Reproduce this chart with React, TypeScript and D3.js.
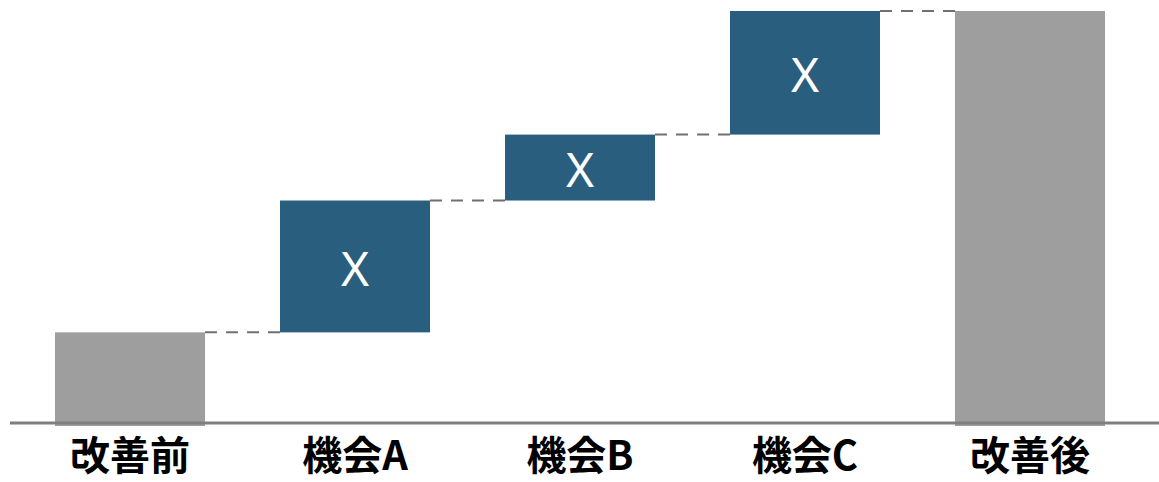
import React from "react";
import * as d3 from "d3";

const categories = ["改善前", "機会A", "機会B", "機会C", "改善後"];
const deltas = [22, 32, 16, 30];
const kinds = ["total", "delta", "delta", "delta", "total"];
const barLabels = ["", "X", "X", "X", ""];

const W = 1159;
const H = 482;

export default function App() {
  const x = d3
    .scaleBand<string>()
    .domain(categories)
    .range([17.5, 1142.5])
    .paddingInner(1 / 3)
    .paddingOuter(1 / 6);
  const total = d3.sum(deltas);
  const y = d3.scaleLinear().domain([0, total]).range([423, 11]);

  let cum = 0;
  const bars = categories.map((c, i) => {
    if (kinds[i] === "total") {
      const v = i === 0 ? deltas[0] : cum;
      if (i === 0) cum = deltas[0];
      return { c, y0: 0, y1: v, kind: kinds[i], label: barLabels[i] };
    }
    const start = cum;
    cum += deltas[i];
    return { c, y0: start, y1: cum, kind: kinds[i], label: barLabels[i] };
  });

  const connectors = bars.slice(0, -1).map((b, i) => ({
    x1: (x(b.c) as number) + x.bandwidth(),
    x2: x(bars[i + 1].c) as number,
    level: b.y1,
  }));

  const blue = "#2a5e7e";
  const gray = "#9e9e9e";

  return (
    <svg
      width={W}
      height={H}
      style={{ position: "absolute", left: 0, top: 0, background: "#fff" }}
    >
      {connectors.map((cn, i) => (
        <line
          key={"c" + i}
          x1={cn.x1}
          x2={cn.x2}
          y1={y(cn.level)}
          y2={y(cn.level)}
          stroke="#707070"
          strokeWidth={2}
          strokeDasharray="12 9"
        />
      ))}
      {bars.map((b) => (
        <rect
          key={b.c}
          x={x(b.c)}
          width={x.bandwidth()}
          y={y(b.y1)}
          height={y(b.y0) - y(b.y1) + (b.kind === "total" ? 3 : 0)}
          fill={b.kind === "total" ? gray : blue}
        />
      ))}
      {bars
        .filter((b) => b.label)
        .map((b) => (
          <text
            key={"t" + b.c}
            x={(x(b.c) as number) + x.bandwidth() / 2}
            y={(y(b.y0) + y(b.y1)) / 2}
            dy="0.4em"
            textAnchor="middle"
            fill="#fff"
            fontFamily="'Noto Sans', sans-serif"
            fontSize={48}
          >
            {b.label}
          </text>
        ))}
      <line x1={10} x2={W} y1={423} y2={423} stroke="#7f7f7f" strokeWidth={3} />
      {categories.map((c) => (
        <text
          key={"l" + c}
          x={(x(c) as number) + x.bandwidth() / 2}
          y={470}
          textAnchor="middle"
          fill="#000"
          fontFamily="'Noto Sans CJK JP', 'Noto Sans', sans-serif"
          fontWeight="bold"
          fontSize={40}
        >
          {c}
        </text>
      ))}
    </svg>
  );
}
